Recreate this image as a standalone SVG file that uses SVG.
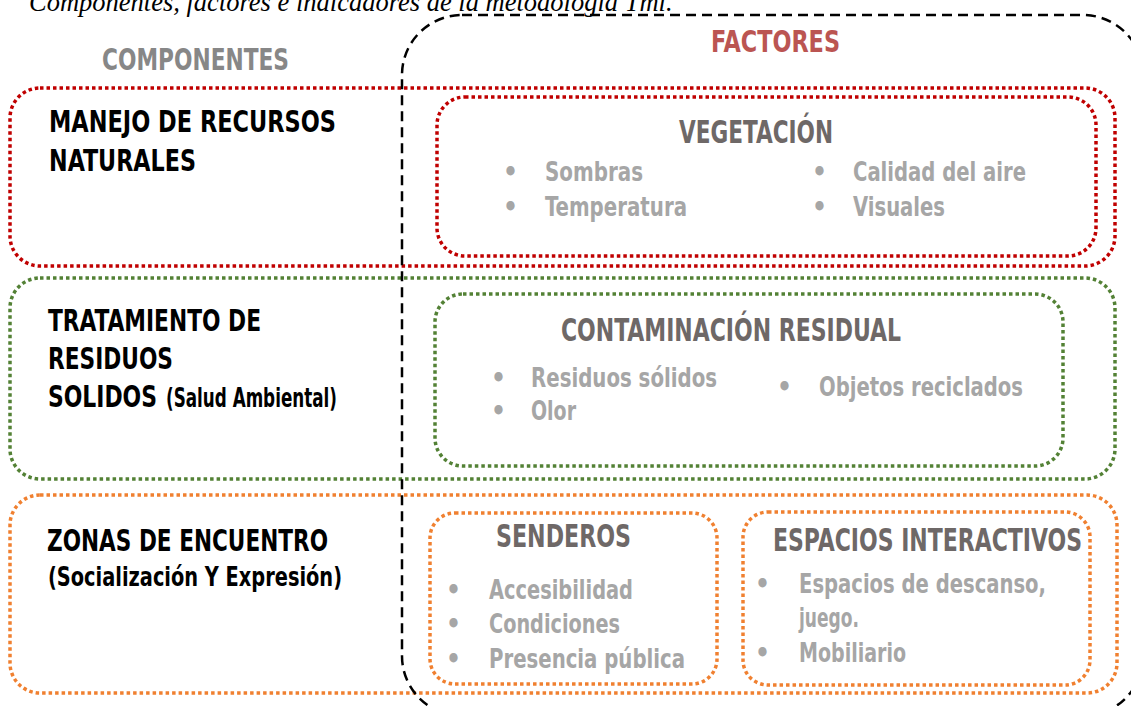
<svg xmlns="http://www.w3.org/2000/svg" width="1131" height="706" viewBox="0 0 1131 706">
<style>
text{font-family:"Liberation Sans Narrow","DejaVu Sans Condensed","Liberation Sans",sans-serif;font-weight:bold}
.cap{font-family:"Liberation Serif","Times New Roman",serif;font-style:italic;font-weight:normal;font-size:26.5px;fill:#000}
.hdr{font-size:30px}
.lbl{font-size:31px;fill:#000}
.sub{font-size:26px;fill:#000}
.fac{font-size:32px;fill:#6E6867}
.ind{font-size:26px;fill:#A6A6A6}
.box{fill:none;stroke-width:3.5;stroke-dasharray:3.5 3}
.red{stroke:#C00000}
.grn{stroke:#538135}
.org{stroke:#F08030}
.frame{fill:none;stroke:#000;stroke-width:2.5;stroke-dasharray:10 6}
</style>
<rect width="1131" height="706" fill="#fff"/>
<text class="cap" x="29" y="10.5">Componentes, factores e indicadores de la metodología Tml.</text>
<text class="hdr" x="102" y="70" fill="#878787" textLength="187" lengthAdjust="spacingAndGlyphs">COMPONENTES</text>
<text class="hdr" x="711" y="52" fill="#BB5552" textLength="129" lengthAdjust="spacingAndGlyphs">FACTORES</text>

<g id="comp-recursos">
<rect class="box red" x="10" y="88" width="1105" height="178" rx="30"/>
<text class="lbl" x="49" y="132" textLength="287" lengthAdjust="spacingAndGlyphs">MANEJO DE RECURSOS</text>
<text class="lbl" x="49" y="171" textLength="147" lengthAdjust="spacingAndGlyphs">NATURALES</text>
</g>
<g id="fac-vegetacion">
<rect class="box red" x="437" y="97" width="659" height="159" rx="28"/>
<text class="fac" x="679" y="143" textLength="154" lengthAdjust="spacingAndGlyphs">VEGETACIÓN</text>
<text class="ind" x="503" y="181">•</text>
<text class="ind" x="503" y="216">•</text>
<text class="ind" x="812" y="181">•</text>
<text class="ind" x="812" y="216">•</text>
<text class="ind" x="545" y="181" textLength="98" lengthAdjust="spacingAndGlyphs">Sombras</text>
<text class="ind" x="545" y="216" textLength="142" lengthAdjust="spacingAndGlyphs">Temperatura</text>
<text class="ind" x="853" y="181" textLength="173" lengthAdjust="spacingAndGlyphs">Calidad del aire</text>
<text class="ind" x="853" y="216" textLength="92" lengthAdjust="spacingAndGlyphs">Visuales</text>
</g>

<g id="comp-residuos">
<rect class="box grn" x="10" y="278" width="1105" height="201" rx="30"/>
<text class="lbl" x="48" y="331" textLength="213" lengthAdjust="spacingAndGlyphs">TRATAMIENTO DE</text>
<text class="lbl" x="48" y="369" textLength="125" lengthAdjust="spacingAndGlyphs">RESIDUOS</text>
<text class="lbl" x="48" y="407" textLength="109" lengthAdjust="spacingAndGlyphs">SOLIDOS</text>
<text class="sub" x="166" y="407" font-size="22" textLength="171" lengthAdjust="spacingAndGlyphs">(Salud Ambiental)</text>
</g>
<g id="fac-contaminacion">
<rect class="box grn" x="435" y="294" width="628" height="172" rx="28"/>
<text class="fac" x="561" y="341" textLength="340" lengthAdjust="spacingAndGlyphs">CONTAMINACIÓN RESIDUAL</text>
<text class="ind" x="491" y="387">•</text>
<text class="ind" x="491" y="420">•</text>
<text class="ind" x="777" y="396">•</text>
<text class="ind" x="531" y="387" textLength="186" lengthAdjust="spacingAndGlyphs">Residuos sólidos</text>
<text class="ind" x="531" y="420" textLength="45" lengthAdjust="spacingAndGlyphs">Olor</text>
<text class="ind" x="819" y="396" textLength="204" lengthAdjust="spacingAndGlyphs">Objetos reciclados</text>
</g>

<g id="comp-encuentro">
<rect class="box org" x="10" y="495" width="1107" height="198" rx="30"/>
<text class="lbl" x="47" y="551" textLength="281" lengthAdjust="spacingAndGlyphs">ZONAS DE ENCUENTRO</text>
<text class="sub" x="48" y="586" textLength="294" lengthAdjust="spacingAndGlyphs">(Socialización Y Expresión)</text>
</g>
<g id="fac-senderos">
<rect class="box org" x="430" y="513" width="287" height="171" rx="25"/>
<text class="fac" x="496" y="547" textLength="135" lengthAdjust="spacingAndGlyphs">SENDEROS</text>
<text class="ind" x="446" y="599">•</text>
<text class="ind" x="446" y="633">•</text>
<text class="ind" x="446" y="668">•</text>
<text class="ind" x="489" y="599" textLength="144" lengthAdjust="spacingAndGlyphs">Accesibilidad</text>
<text class="ind" x="489" y="633" textLength="131" lengthAdjust="spacingAndGlyphs">Condiciones</text>
<text class="ind" x="489" y="668" textLength="196" lengthAdjust="spacingAndGlyphs">Presencia pública</text>
</g>
<g id="fac-espacios">
<rect class="box org" x="743" y="512" width="347" height="173" rx="25"/>
<text class="fac" x="773" y="551" textLength="309" lengthAdjust="spacingAndGlyphs">ESPACIOS INTERACTIVOS</text>
<text class="ind" x="755" y="593">•</text>
<text class="ind" x="755" y="662">•</text>
<text class="ind" x="799" y="593" textLength="247" lengthAdjust="spacingAndGlyphs">Espacios de descanso,</text>
<text class="ind" x="799" y="627" textLength="60" lengthAdjust="spacingAndGlyphs">juego.</text>
<text class="ind" x="799" y="662" textLength="107" lengthAdjust="spacingAndGlyphs">Mobiliario</text>
</g>

<g id="frame-factores">
<rect class="frame" x="402" y="15" width="741" height="701" rx="60"/>
</g>
</svg>
